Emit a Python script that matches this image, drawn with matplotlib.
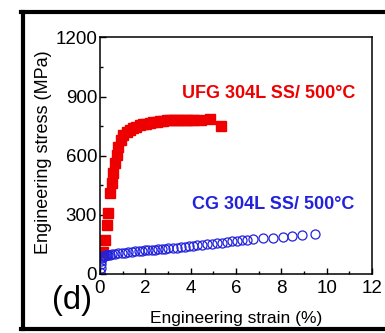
import matplotlib.pyplot as plt
from matplotlib.lines import Line2D
from matplotlib.ticker import MultipleLocator

plt.rcParams['font.family'] = ['Liberation Sans', 'DejaVu Sans']

# UFG 304L SS at 500 C (red squares)
ufg_strain = [0.12, 0.22, 0.29, 0.37, 0.44, 0.51, 0.59, 0.66, 0.74, 0.81, 0.91, 1.03,
              1.18, 1.32, 1.46, 1.60, 1.75, 1.90, 2.05, 2.20, 2.35, 2.50, 2.65, 2.80,
              2.95, 3.10, 3.25, 3.40, 3.55, 3.70, 3.85, 4.00, 4.15, 4.45, 4.85, 5.35]
ufg_stress = [110, 172, 248, 308, 412, 463, 513, 562, 602, 645, 678, 704,
              722, 733, 741, 748, 754, 759, 763, 767, 770, 773, 775, 777,
              779, 780, 781, 782, 782, 782, 782, 782, 781, 780, 785, 750]

# CG 304L SS at 500 C (blue open circles)
cg_strain = [0.02, 0.03, 0.04, 0.05, 0.07, 0.10, 0.13, 0.18, 0.22, 0.26, 0.30, 0.35,
             0.44, 0.52, 0.66, 0.80, 0.96, 1.10, 1.25, 1.40, 1.54, 1.70, 1.84, 2.00,
             2.13, 2.28, 2.43, 2.58, 2.72, 2.86, 3.01, 3.20, 3.38, 3.56, 3.75, 3.94,
             4.12, 4.30, 4.49, 4.71, 4.93, 5.15, 5.37, 5.59, 5.81, 6.03, 6.25, 6.50,
             6.76, 7.21, 7.65, 8.09, 8.46, 8.90, 9.48]
cg_stress = [10, 30, 50, 68, 82, 88, 90, 92, 93, 95, 96, 97,
             98, 100, 102, 105, 107, 109, 111, 113, 115, 117, 118, 120,
             121, 123, 124, 126, 127, 129, 130, 132, 134, 136, 138, 140,
             143, 145, 148, 150, 153, 156, 159, 163, 166, 169, 172, 174,
             177, 181, 185, 189, 192, 196, 201]

fig = plt.figure(figsize=(3.85, 3.33), dpi=100)
ax = fig.add_axes([0.2597, 0.1772, 0.7065, 0.7103])

ax.plot(ufg_strain, ufg_stress, 's', color='#ee0000', ms=6.5, mec='#ee0000')
ax.plot(cg_strain, cg_stress, 'o', mfc='none', mec='#2222dd', ms=6.5, mew=0.9)

ax.set_xlim(0, 12)
ax.set_ylim(0, 1200)
ax.xaxis.set_major_locator(MultipleLocator(2))
ax.xaxis.set_minor_locator(MultipleLocator(1))
ax.yaxis.set_major_locator(MultipleLocator(300))
ax.yaxis.set_minor_locator(MultipleLocator(150))
ax.tick_params(which='both', direction='in', labelsize=13.5, width=1)
ax.tick_params(axis='y', pad=2)
ax.tick_params(axis='x', pad=4)
ax.tick_params(which='major', length=4)
ax.tick_params(which='minor', length=2.5)
for s in ax.spines.values():
    s.set_linewidth(1.1)

fig.text(236 / 385, 1 - 318 / 333, 'Engineering strain (%)', fontsize=12.5,
         ha='center', va='center')
fig.text(44 / 385, 1 - 152 / 333, 'Engineering stress (MPa)', fontsize=13,
         ha='center', va='center', rotation=90)

ax.text(0.94, 0.765, 'UFG 304L SS/ 500°C', transform=ax.transAxes, color='#ee0000',
        fontsize=13, fontweight='bold', ha='right', va='center')
ax.text(0.935, 0.295, 'CG 304L SS/ 500°C', transform=ax.transAxes, color='#2222dd',
        fontsize=13, fontweight='bold', ha='right', va='center')

fig.text(72 / 385, 1 - 301 / 333, '(d)', fontsize=23.5, ha='center', va='center')

# outer black frame of the panel
lw = 3.0
fig.add_artist(Line2D([0.06, 0.06], [0.012, 0.964], color='black', lw=lw))
fig.add_artist(Line2D([0.055, 1.0], [0.964, 0.964], color='black', lw=lw))
fig.add_artist(Line2D([0.055, 1.0], [0.012, 0.012], color='black', lw=lw))

fig.savefig('out.png', dpi=100)
